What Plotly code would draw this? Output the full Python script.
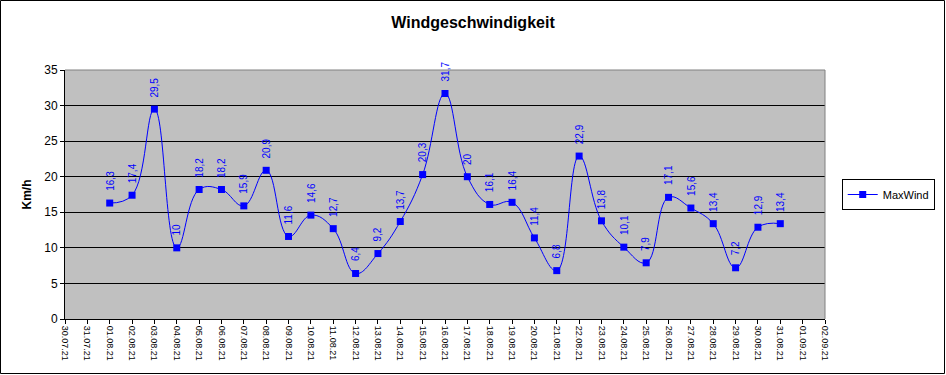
import plotly.graph_objects as go

dates = ["2021-08-%02d" % d for d in range(1, 32)]
max_wind = [16.3, 17.4, 29.5, 10, 18.2, 18.2, 15.9, 20.9, 11.6, 14.6, 12.7, 6.4, 9.2, 13.7,
            20.3, 31.7, 20, 16.1, 16.4, 11.4, 6.8, 22.9, 13.8, 10.1, 7.9, 17.1, 15.6, 13.4,
            7.2, 12.9, 13.4]
labels = [("%g" % v).replace(".", ",") for v in max_wind]

W, H = 946, 375
L, R, T, B = 65, 121, 70, 56
pw, ph = W - L - R, H - T - B

fig = go.Figure()
fig.add_trace(go.Scatter(
    x=dates, y=max_wind, mode="lines+markers", name="MaxWind",
    line=dict(color="#0000FF", width=1, shape="spline", smoothing=1.2),
    marker=dict(symbol="square", size=7, color="#0000FF"),
))

for d, v, t in zip(dates, max_wind, labels):
    fig.add_annotation(x=d, y=v, text=t, textangle=-90, showarrow=False,
                       yanchor="bottom", yshift=10,
                       font=dict(family="Arial", size=10, color="#0000FF"))

fig.update_layout(
    width=W, height=H,
    margin=dict(l=L, r=R, t=T, b=B, autoexpand=False),
    paper_bgcolor="white", plot_bgcolor="#C0C0C0",
    title=dict(text="<b>Windgeschwindigkeit</b>", x=0.5, xanchor="center",
               y=1 - 22 / H, yanchor="middle",
               font=dict(family="Arial", size=16, color="black")),
    showlegend=True,
    legend=dict(x=1.022, y=0.5, xanchor="left", yanchor="middle",
                bordercolor="black", borderwidth=1, bgcolor="white",
                font=dict(family="Arial", size=11, color="black")),
    font=dict(family="Arial", color="black"),
)
fig.update_xaxes(type="date", range=["2021-07-30", "2021-09-02"],
                 tick0="2021-07-30", dtick=86400000, tickformat="%d.%m.%y",
                 tickangle=90, ticks="outside", ticklen=4, tickcolor="black",
                 showgrid=False, showline=True, linecolor="black", linewidth=1,
                 automargin=False,
                 tickfont=dict(family="Arial", size=9, color="black"))
fig.update_yaxes(range=[0, 35], dtick=5, ticks="outside", ticklen=4, tickcolor="black",
                 showgrid=True, gridcolor="black", gridwidth=1,
                 showline=True, linecolor="black", linewidth=1, zeroline=False,
                 automargin=False,
                 title=dict(text="<b>Km/h</b>", font=dict(family="Arial", size=12), standoff=10),
                 tickfont=dict(family="Arial", size=12, color="black"))
# plot area frame (top/right gray)
fig.add_shape(type="line", xref="paper", yref="paper", x0=0, x1=1, y0=1, y1=1,
              line=dict(color="#808080", width=1), layer="above")
fig.add_shape(type="line", xref="paper", yref="paper", x0=1, x1=1, y0=0, y1=1,
              line=dict(color="#808080", width=1), layer="above")
# outer chart border
fig.add_shape(type="rect", xref="paper", yref="paper",
              x0=-(L - 0.5) / pw, x1=(W - L - 1.5) / pw,
              y0=-(B - 1.5) / ph, y1=1 + (T - 0.5) / ph,
              line=dict(color="black", width=1), layer="above")
fig.write_html("out.html", config={"displayModeBar": False},
               post_script="document.body.style.margin='0';document.body.style.overflow='hidden';")
